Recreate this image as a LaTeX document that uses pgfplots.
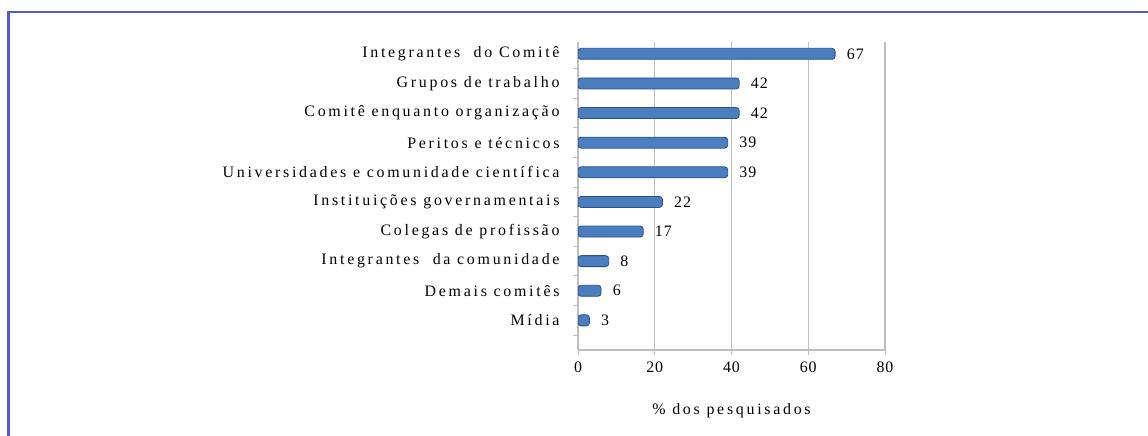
\documentclass[border=0pt]{standalone}
\usepackage{fontspec}
\setmainfont{Liberation Serif}
\usepackage{pgfplots}
\pgfplotsset{compat=1.18}
\definecolor{framecol}{RGB}{80,92,200}
\definecolor{barmid}{RGB}{74,126,190}
\definecolor{bardark}{RGB}{40,80,145}
\definecolor{gridcol}{RGB}{190,190,190}
\newcommand{\lblfont}{\fontsize{16}{17}\selectfont\addfontfeatures{LetterSpace=17}}
\newcommand{\numfont}{\fontsize{16}{17}\selectfont\addfontfeatures{LetterSpace=6}}

\begin{document}
\begin{tikzpicture}[x=1bp,y=1bp]
\useasboundingbox (0,0) rectangle (1148,436);
\draw[framecol, line width=2.5bp] (8.5,0) -- (8.5,424) -- (1148,424);
\begin{axis}[
  at={(578bp,86bp)}, anchor=south west,
  scale only axis, width=307bp, height=308bp,
  xbar, bar width=11bp,
  xmin=0, xmax=80, ymin=-1, ymax=9.4,
  xtick={0,20,40,60,80},
  ytick={0,...,9},
  yticklabels={M\'idia, Demais comit\^es, Integrantes\ \ da comunidade,
    Colegas de profiss\~ao, Institui\c{c}\~oes governamentais,
    Universidades e comunidade cient\'ifica, Peritos e t\'ecnicos,
    Comit\^e enquanto organiza\c{c}\~ao, Grupos de trabalho,
    Integrantes\ \ do Comit\^e},
  minor ytick={-0.5,0.5,...,8.5},
  major y tick style={draw=none},
  tick align=outside,
  major tick length=5bp, minor tick length=5bp,
  tick style={gridcol, line width=1bp},
  axis x line*=bottom, axis y line*=left,
  axis line style={gridcol, line width=1.2bp, -},
  xmajorgrids, grid style={gridcol, line width=1.2bp},
  /pgf/number format/assume math mode=true,
  yticklabel style={font=\lblfont, xshift=-10bp},
  xticklabel style={font=\numfont, yshift=-3bp},
  xlabel={\% dos pesquisados},
  xlabel style={font=\lblfont, yshift=-24bp},
  nodes near coords,
  nodes near coords style={font=\numfont, anchor=west, xshift=8bp},
]
\addplot[draw=bardark, line width=0.8bp, fill=barmid, rounded corners=3bp]
  coordinates {(3,0) (6,1) (8,2) (17,3) (22,4) (39,5) (39,6) (42,7) (42,8) (67,9)};
\end{axis}
\end{tikzpicture}
\end{document}
